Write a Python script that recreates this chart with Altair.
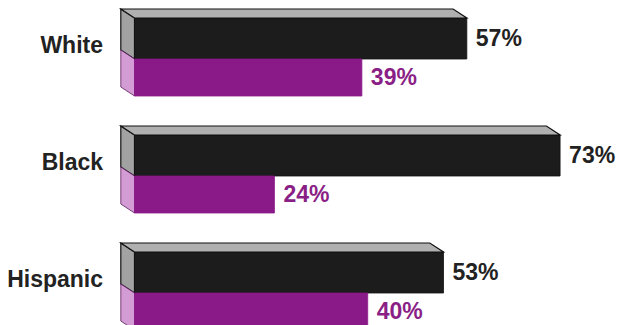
import altair as alt
import pandas as pd

# ---- data ----
groups = ["White", "Black", "Hispanic"]
series = ["Black bar", "Purple bar"]
black_values = [57, 73, 53]
purple_values = [39, 24, 40]

# ---- layout / style constants ----
ROW0 = 10          # y of first front top (chart px units)
ROW_STEP = 117
H_BLACK = 41
H_PURPLE = 37
DEPTH_X = 2.35     # depth offset in x data units (percent)
DEPTH_Y = 9        # depth offset in y units
BLACK = "#1c1c1c"
PURPLE = "#8b1a89"
TOP_GRAY = "#b0b0b0"
SIDE_GRAY = "#a2a2a2"
SIDE_PINK = "#d49cd4"
FONT = "Liberation Sans"

front_rows, top_rows, side_gray_rows, side_pink_rows, val_rows, cat_rows = [], [], [], [], [], []
for i, g in enumerate(groups):
    top = ROW0 + ROW_STEP * i
    b, p = black_values[i], purple_values[i]
    front_rows.append(dict(cat=g, s=series[0], x0=0, x1=b, y0=top, y1=top + H_BLACK))
    front_rows.append(dict(cat=g, s=series[1], x0=0, x1=p, y0=top + H_BLACK, y1=top + H_BLACK + H_PURPLE))
    top_rows.append(dict(cat=g, y=top - DEPTH_Y, x=-DEPTH_X, x2=b - DEPTH_X))
    top_rows.append(dict(cat=g, y=top, x=0, x2=b))
    side_gray_rows.append(dict(cat=g, x=-DEPTH_X, y=top - DEPTH_Y, y2=top - DEPTH_Y + H_BLACK))
    side_gray_rows.append(dict(cat=g, x=0, y=top, y2=top + H_BLACK))
    side_pink_rows.append(dict(cat=g, x=-DEPTH_X, y=top - DEPTH_Y + H_BLACK, y2=top - DEPTH_Y + H_BLACK + H_PURPLE))
    side_pink_rows.append(dict(cat=g, x=0, y=top + H_BLACK, y2=top + H_BLACK + H_PURPLE))
    val_rows.append(dict(cat=g, s=series[0], x=b, y=top + H_BLACK / 2, label=f"{b}%"))
    val_rows.append(dict(cat=g, s=series[1], x=p, y=top + H_BLACK + H_PURPLE / 2, label=f"{p}%"))
    cat_rows.append(dict(cat=g, x=0, y=top + 35))

front = pd.DataFrame(front_rows)
topf = pd.DataFrame(top_rows)
side_g = pd.DataFrame(side_gray_rows)
side_p = pd.DataFrame(side_pink_rows)
vals = pd.DataFrame(val_rows)
cats = pd.DataFrame(cat_rows)

xs = alt.Scale(domain=[-21.7, 82.59], nice=False, zero=False)
ys = alt.Scale(domain=[0, 317], reverse=True, nice=False, zero=False)
col = alt.Scale(domain=series, range=[BLACK, PURPLE])

faces = alt.Chart(front).mark_rect(strokeWidth=0.8).encode(
    x=alt.X("x0:Q", scale=xs, axis=None),
    x2="x1:Q",
    y=alt.Y("y0:Q", scale=ys, axis=None),
    y2="y1:Q",
    color=alt.Color("s:N", scale=col, legend=None),
    stroke=alt.Stroke("s:N", scale=alt.Scale(domain=series, range=["#111111", PURPLE]), legend=None),
)

top_face = alt.Chart(topf).mark_area(
    orient="horizontal", color=TOP_GRAY, stroke="#111111", strokeWidth=1.2, opacity=1
).encode(
    y=alt.Y("y:Q", scale=ys, axis=None),
    x=alt.X("x:Q", scale=xs, axis=None),
    x2="x2:Q",
    detail="cat:N",
)

side_gray = alt.Chart(side_g).mark_area(
    orient="vertical", color=SIDE_GRAY, stroke="#111111", strokeWidth=1.2, opacity=1
).encode(
    x=alt.X("x:Q", scale=xs, axis=None),
    y=alt.Y("y:Q", scale=ys, axis=None),
    y2="y2:Q",
    detail="cat:N",
)

side_pink = alt.Chart(side_p).mark_area(
    orient="vertical", color=SIDE_PINK, stroke="#5a1a5a", strokeWidth=0.8, opacity=1
).encode(
    x=alt.X("x:Q", scale=xs, axis=None),
    y=alt.Y("y:Q", scale=ys, axis=None),
    y2="y2:Q",
    detail="cat:N",
)

value_text = alt.Chart(vals).mark_text(
    align="left", baseline="middle", dx=9, font=FONT, fontSize=23, fontWeight="bold"
).encode(
    x=alt.X("x:Q", scale=xs, axis=None),
    y=alt.Y("y:Q", scale=ys, axis=None),
    text="label:N",
    color=alt.Color("s:N", scale=alt.Scale(domain=series, range=["#222222", "#8a1f86"]), legend=None),
)

cat_text = alt.Chart(cats).mark_text(
    align="right", baseline="alphabetic", dx=-31.5, font=FONT, fontSize=23, fontWeight="bold", color="#222222"
).encode(
    x=alt.X("x:Q", scale=xs, axis=None),
    y=alt.Y("y:Q", scale=ys, axis=None),
    text="cat:N",
)

chart = alt.layer(side_gray, side_pink, faces, top_face, value_text, cat_text).resolve_scale(
    color="independent"
).properties(
    width=608, height=317, padding=0,
    autosize=alt.AutoSizeParams(type="none"),
    background="white",
).configure_view(strokeWidth=0)

chart.save("out.html", embed_options={"renderer": "svg", "actions": False})
